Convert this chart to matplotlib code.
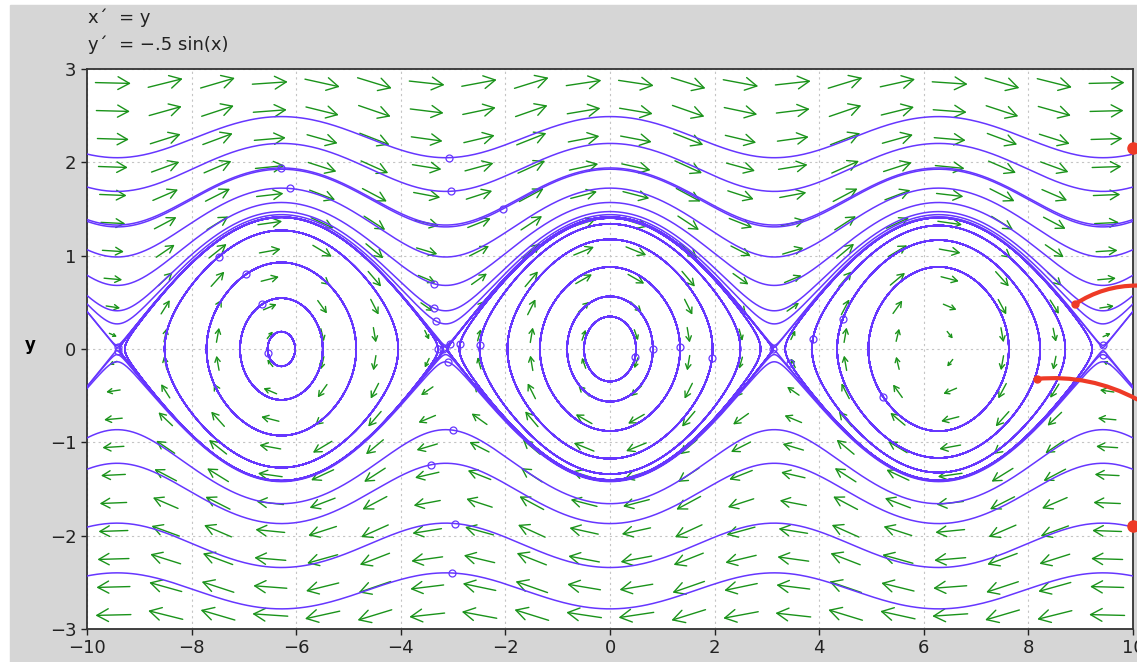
import numpy as np
import matplotlib.pyplot as plt
from matplotlib.patches import Rectangle

# system shown in the header:  x' = y,  y' = -.5 sin(x)
a = -0.5
xlim = (-10, 10)
ylim = (-3, 3)
xticks = [-10, -8, -6, -4, -2, 0, 2, 4, 6, 8, 10]
yticks = [-3, -2, -1, 0, 1, 2, 3]
n_field = 20  # arrows per row / column of the direction field

# initial points of the plotted solutions (the small circles)
x0 = [-3.08, -3.04, -2.05, -6.30, -6.12, -3.37, -3.37, -3.33,
      -6.54, -6.65, -6.96, -7.48, -3.29, -3.19,
      -3.06, -3.10, -2.87, -2.49, 0.48, 0.82, 1.34, 1.95,
      3.12, 3.44, 3.88, 4.45, 5.22,
      -9.41, -9.41, 9.43, 9.43,
      -3.00, -3.42, -2.96, -3.02]
y0 = [2.05, 1.69, 1.50, 1.94, 1.72, 0.70, 0.44, 0.30,
      -0.04, 0.48, 0.80, 0.99, 0.00, 0.00,
      0.05, -0.14, 0.05, 0.04, -0.09, 0.00, 0.02, -0.10,
      0.00, -0.15, 0.11, 0.32, -0.51,
      0.02, -0.02, 0.04, -0.06,
      -0.87, -1.24, -1.87, -2.40]

# red hand-drawn marks over the right edge (tail -> head, data coords)
red_tail_x = [10.08, 10.08]
red_tail_y = [0.68, -0.54]
red_head_x = [8.89, 8.16]
red_head_y = [0.48, -0.32]
red_dot_x = [10.0, 10.0]
red_dot_y = [2.15, -1.90]

green = '#1a931a'
blue = '#6636ff'
red = '#ee3a26'


def f(x, y):
    return y, a * np.sin(x)


def trace(xs, ys, dt, nsteps):
    x = np.array(xs, float)
    y = np.array(ys, float)
    X = [x.copy()]
    Y = [y.copy()]
    for _ in range(nsteps):
        k1x, k1y = f(x, y)
        k2x, k2y = f(x + dt / 2 * k1x, y + dt / 2 * k1y)
        k3x, k3y = f(x + dt / 2 * k2x, y + dt / 2 * k2y)
        k4x, k4y = f(x + dt * k3x, y + dt * k3y)
        x = x + dt / 6 * (k1x + 2 * k2x + 2 * k3x + k4x)
        y = y + dt / 6 * (k1y + 2 * k2y + 2 * k3y + k4y)
        X.append(x.copy())
        Y.append(y.copy())
        out = (np.abs(x) > 10.3) | (np.abs(y) > 3.3)
        x[out] = np.nan
        y[out] = np.nan
    return np.array(X), np.array(Y)


W, H = 1137, 662
fig = plt.figure(figsize=(W / 100, H / 100), dpi=100)
fig.add_artist(Rectangle((10 / W, 0), 1, 1 - 5 / H, transform=fig.transFigure,
                         color='#d6d6d6', zorder=-10))

left, right, top, bottom = 87, 1133, 69, 629
ax = fig.add_axes([left / W, 1 - bottom / H, (right - left) / W, (bottom - top) / H])
ax.set_facecolor('white')
ax.set_xlim(*xlim)
ax.set_ylim(*ylim)
ax.set_xticks(xticks)
ax.set_yticks(yticks)
ax.tick_params(direction='out', length=4, width=1, labelsize=13, colors='#222222')
for s in ax.spines.values():
    s.set_linewidth(1.3)
    s.set_color('#333333')
ax.grid(True, ls=(0, (2, 3)), color='#c4c4c4', lw=0.8)
ax.set_axisbelow(True)

# direction field
sx = (right - left) / (xlim[1] - xlim[0])
sy = (bottom - top) / (ylim[1] - ylim[0])
dxg = (xlim[1] - xlim[0]) / n_field
dyg = (ylim[1] - ylim[0]) / n_field
gx = xlim[0] + dxg * (np.arange(n_field) + 0.5)
gy = ylim[0] + dyg * (np.arange(n_field) + 0.5)
for xc in gx:
    for yc in gy:
        u, v = f(xc, yc)
        du, dv = u * sx, v * sy
        dm = np.hypot(du, dv)
        L = 21 * np.sqrt(np.hypot(u, v))
        hx = du / dm * L / 2 / sx
        hy = dv / dm * L / 2 / sy
        ax.annotate('', xy=(xc + hx, yc + hy), xytext=(xc - hx, yc - hy), zorder=2,
                    arrowprops=dict(arrowstyle='->,head_length=0.45,head_width=0.25',
                                    color=green, lw=1.0, shrinkA=0, shrinkB=0,
                                    mutation_scale=0.52 * L))

# solutions, forward and backward from each initial point
Xf, Yf = trace(x0, y0, 0.02, 3000)
Xb, Yb = trace(x0, y0, -0.02, 3000)
Xs = np.vstack([Xb[::-1], Xf[1:]])
Ys = np.vstack([Yb[::-1], Yf[1:]])
ax.plot(Xs, Ys, color=blue, lw=1.1, zorder=3)
ax.plot(x0, y0, 'o', ms=5, mfc='none', mec=blue, mew=0.9, zorder=4)

# red marks
for i in range(len(red_head_x)):
    ax.annotate('', xy=(red_head_x[i], red_head_y[i]), xytext=(red_tail_x[i], red_tail_y[i]),
                annotation_clip=False, zorder=6,
                arrowprops=dict(arrowstyle='-', color=red, lw=3, shrinkA=0, shrinkB=0,
                                connectionstyle='arc3,rad=0.15'))
ax.plot(red_head_x, red_head_y, 'o', color=red, ms=5, zorder=6, clip_on=False)
ax.plot(red_dot_x, red_dot_y, 'o', color=red, ms=8, zorder=6, clip_on=False)

fig.text(88 / W, 1 - 18 / H, 'x\u00b4  = y', fontsize=13, va='center', color='#222222')
fig.text(88 / W, 1 - 45 / H, 'y\u00b4  = \u2212.5 sin(x)', fontsize=13, va='center', color='#222222')
fig.text(30 / W, 1 - 345 / H, 'y', fontsize=12, fontweight='bold', va='center', ha='center')

fig.savefig('out.png', dpi=100)
